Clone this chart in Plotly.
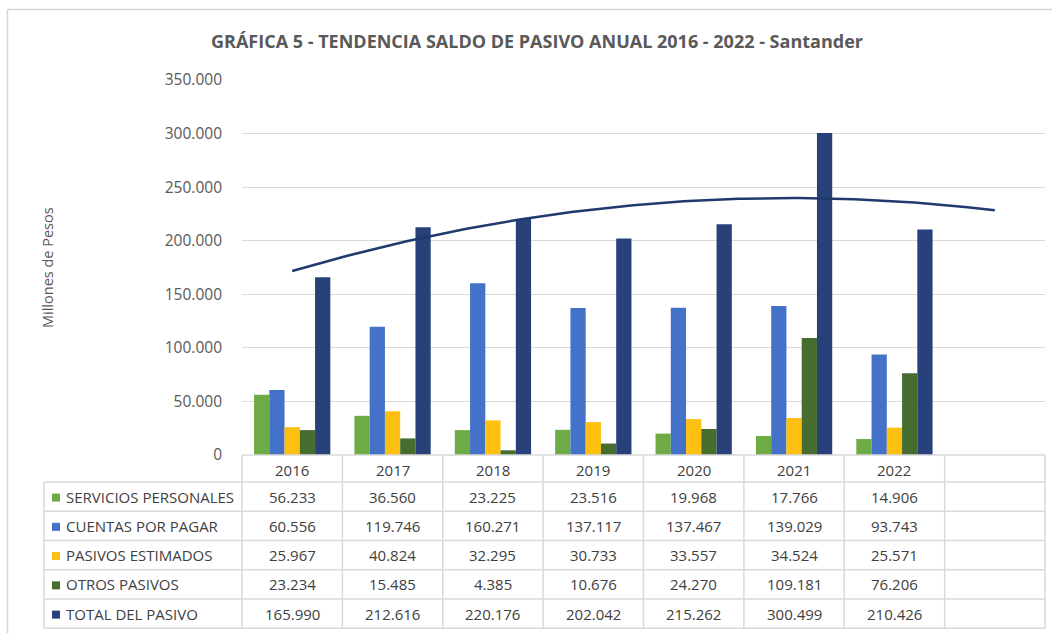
import numpy as np
import plotly.graph_objects as go

# ---- data (millones de pesos) ----
years = ["2016", "2017", "2018", "2019", "2020", "2021", "2022"]
series_names = ["SERVICIOS PERSONALES", "CUENTAS POR PAGAR", "PASIVOS ESTIMADOS",
                "OTROS PASIVOS", "TOTAL DEL PASIVO"]
servicios_personales = [56233, 36560, 23225, 23516, 19968, 17766, 14906]
cuentas_por_pagar = [60556, 119746, 160271, 137117, 137467, 139029, 93743]
pasivos_estimados = [25967, 40824, 32295, 30733, 33557, 34524, 25571]
otros_pasivos = [23234, 15485, 4385, 10676, 24270, 109181, 76206]
total_pasivo = [165990, 212616, 220176, 202042, 215262, 300499, 210426]
y_ticks = [0, 50000, 100000, 150000, 200000, 250000, 300000, 350000]

series_values = [servicios_personales, cuentas_por_pagar, pasivos_estimados,
                 otros_pasivos, total_pasivo]
colors = ["#6eab45", "#4472c8", "#fdc011", "#466c2e", "#28417a"]

W, H = 1052, 633
FONT = "Open Sans"
GRAY = "#595959"
TXT = "#404040"
GRID = "#d9d9d9"


def px(x):
    return x / W


def py(y):
    return 1 - y / H


# plot area in pixels
X0, X1 = 242, 1045
Y_TOP, Y_ZERO = 80, 455
n_slots = len(years) + 1          # one extra slot for the trend projection
slot_w = (X1 - X0) / n_slots

fig = go.Figure()

idx = np.arange(len(years))
for name, vals, col in zip(series_names, series_values, colors):
    fig.add_trace(go.Bar(x=idx, y=vals, name=name, marker=dict(color=col, line=dict(width=0)),
                         hoverinfo="skip", showlegend=False))

# polynomial (order 2) trend of the total, projected one period forward
coef = np.polyfit(idx, total_pasivo, 2)
tx = np.linspace(0, len(years), 141)
fig.add_trace(go.Scatter(x=tx, y=np.polyval(coef, tx), mode="lines",
                         line=dict(color="#1f3a6c", width=2.5),
                         hoverinfo="skip", showlegend=False))

fig.update_layout(
    width=W, height=H,
    margin=dict(l=0, r=0, t=0, b=0, autoexpand=False),
    paper_bgcolor="white", plot_bgcolor="white",
    separators=",.",
    barmode="group", bargap=0.24, bargroupgap=0,
    font=dict(family=FONT, color=GRAY),
    xaxis=dict(domain=[px(X0), px(X1)], range=[-0.5, n_slots - 0.5],
               showticklabels=False, showgrid=False, zeroline=False, ticks=""),
    yaxis=dict(domain=[py(Y_ZERO), py(Y_TOP)], range=[0, 350000],
               tickvals=y_ticks, tickformat=",d",
               tickfont=dict(size=15.5, color=GRAY, family=FONT),
               showgrid=True, gridcolor=GRID, gridwidth=1,
               zeroline=False, ticks="", ticklabelstandoff=19),
)

shapes = []
ann = []


def hline(y, xa, xb, color=GRID, width=1.5):
    shapes.append(dict(type="line", xref="paper", yref="paper",
                       x0=px(xa), x1=px(xb), y0=py(y), y1=py(y),
                       line=dict(color=color, width=width)))


def vline(x, ya, yb, color=GRID, width=1.5):
    shapes.append(dict(type="line", xref="paper", yref="paper",
                       x0=px(x), x1=px(x), y0=py(ya), y1=py(yb),
                       line=dict(color=color, width=width)))


# outer chart border (top and left edges inside the page)
hline(9.5, 7.5, W, color="#d6d6d6")
vline(7.5, 9.5, H, color="#d6d6d6")

# title
ann.append(dict(text="<b>GRÁFICA 5 - TENDENCIA SALDO DE PASIVO ANUAL 2016 - 2022 - Santander</b>",
                xref="paper", yref="paper", x=px(537), y=py(41),
                xanchor="center", yanchor="middle", showarrow=False,
                font=dict(size=18, color=GRAY, family=FONT)))

# y axis title
ann.append(dict(text="Millones de Pesos", xref="paper", yref="paper",
                x=px(47), y=py(268), textangle=-90, showarrow=False,
                xanchor="center", yanchor="middle",
                font=dict(size=14.5, color=GRAY, family=FONT)))

# ---- data table ----
T_TOP, H_BOT = 455, 482
ROW_H = 29.25
L_COL = 44
row_edges = [H_BOT + k * ROW_H for k in range(len(series_names) + 1)]
T_BOT = row_edges[-1]

hline(T_TOP, X0, X1)
for y in row_edges:
    hline(y, L_COL, X1)
vline(L_COL, H_BOT, T_BOT)
for k in range(n_slots + 1):
    vline(X0 + k * slot_w, T_TOP, T_BOT)

# header (years)
for i, yr in enumerate(years):
    ann.append(dict(text=yr, xref="x", yref="paper", x=i, y=py((T_TOP + H_BOT) / 2 + 1),
                    showarrow=False, xanchor="center", yanchor="middle",
                    font=dict(size=15, color=TXT, family=FONT)))

# rows
for r, (name, vals, col) in enumerate(zip(series_names, series_values, colors)):
    yc = (row_edges[r] + row_edges[r + 1]) / 2
    shapes.append(dict(type="rect", xref="paper", yref="paper",
                       x0=px(52), x1=px(60), y0=py(yc - 3), y1=py(yc + 5),
                       fillcolor=col, line=dict(width=0)))
    ann.append(dict(text=name, xref="paper", yref="paper", x=px(64), y=py(yc),
                    showarrow=False, xanchor="left", yanchor="middle",
                    font=dict(size=15, color=TXT, family=FONT)))
    for i, v in enumerate(vals):
        ann.append(dict(text=f"{v:,}".replace(",", "."), xref="x", yref="paper",
                        x=i, y=py(yc), showarrow=False,
                        xanchor="center", yanchor="middle",
                        font=dict(size=15, color=TXT, family=FONT)))

fig.update_layout(shapes=shapes, annotations=ann)
fig.write_html("out.html")
